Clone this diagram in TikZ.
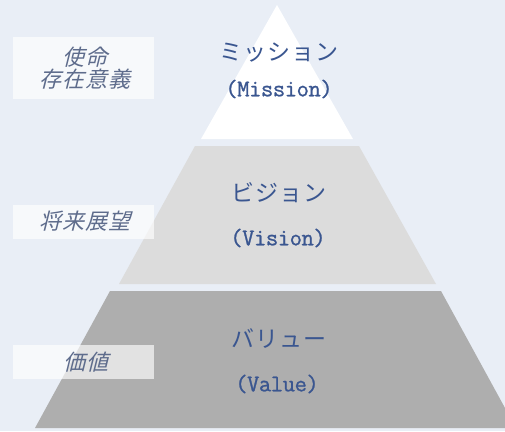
\documentclass[tikz,border=0pt]{standalone}
\usepackage{fontspec}
\newfontfamily\jp{Noto Sans CJK JP}[LetterSpace=5]
\newfontfamily\jplabel{Noto Sans CJK JP}[FakeSlant=0.25,LetterSpace=6]
\newfontfamily\lmono{Latin Modern Mono}[LetterSpace=-2,FakeBold=1]
\definecolor{bgc}{HTML}{E9EEF6}
\definecolor{midgray}{HTML}{DCDCDC}
\definecolor{lowgray}{HTML}{AEAEAE}
\definecolor{txtblue}{HTML}{3A5690}
\definecolor{lbltxt}{HTML}{5E6C8C}
\tikzset{
  kana/.style={text=txtblue,font=\jp\fontsize{23}{24}\selectfont,inner sep=0pt,anchor=center},
  latin/.style={text=txtblue,font=\lmono\fontsize{24}{26}\selectfont,inner sep=0pt,anchor=center},
  lblbox/.style={fill=white,fill opacity=0.65,draw=none},
  lbltext/.style={text=lbltxt,font=\jplabel\fontsize{22}{22}\selectfont,align=center,inner sep=0pt,anchor=center}
}
\begin{document}
\begin{tikzpicture}[x=1pt,y=-1pt]
\useasboundingbox (0,0) rectangle (505,431);
\fill[bgc] (0,0) rectangle (505,431);
% pyramid layers
\fill[white] (277,5) -- (353,139) -- (201,139) -- cycle;
\fill[midgray] (195,146) -- (359,146) -- (436,284) -- (119,284) -- cycle;
\fill[lowgray] (110,291) -- (441,291) -- (505,408) -- (505,428) -- (35,428) -- cycle;
% label boxes
\fill[lblbox] (13,37) rectangle (154,99);
\fill[lblbox] (13,205) rectangle (154,239);
\fill[lblbox] (13,345) rectangle (154,379);
% pyramid texts
\node[kana] (mjp) at (279,53) {ミッション};
\node[latin] (men) at (279,89) {(Mission)};
\node[kana] (vjp) at (279,193) {ビジョン};
\node[latin] (ven) at (278,238) {(Vision)};
\node[kana] (vljp) at (279,339) {バリュー};
\node[latin] (vlen) at (277,384) {(Value)};
% side labels
\node[lbltext] (l1) at (85,68) {使命\\存在意義};
\node[lbltext] (l2) at (85,221) {将来展望};
\node[lbltext] (l3) at (86,362) {価値};
\end{tikzpicture}
\end{document}
